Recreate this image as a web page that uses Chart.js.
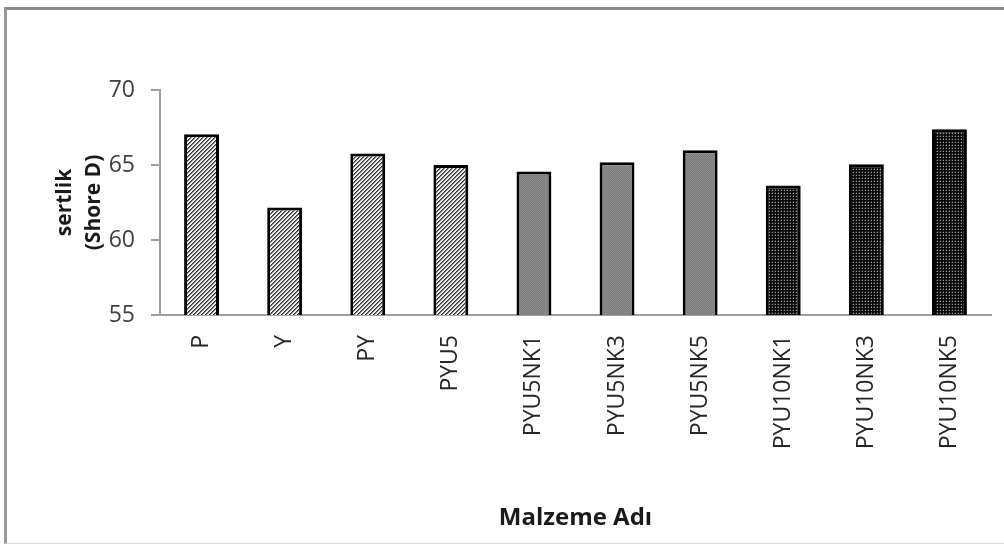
<!DOCTYPE html>
<html>
<head>
<meta charset="utf-8">
<script src="https://cdn.jsdelivr.net/npm/chart.js@4/dist/chart.umd.min.js"></script>
<style>
  html, body { margin: 0; padding: 0; background: #fff; }
  #wrap { position: relative; width: 1004px; height: 545px; }
  #frame { position: absolute; left: 4px; top: 7px; width: 1000px; height: 537px;
           border-top: 3px solid #8a8a8a; border-left: 3px solid #9a9a9a; border-bottom: 1px solid #dcdcdc;
           pointer-events: none; box-sizing: border-box; }
  canvas { position: absolute; left: 0; top: 0; }
</style>
</head>
<body>
<div id="wrap">
  <canvas id="c" width="1004" height="545"></canvas>
  <div id="frame"></div>
</div>
<script>
const categories = ['P', 'Y', 'PY', 'PYU5', 'PYU5NK1', 'PYU5NK3', 'PYU5NK5', 'PYU10NK1', 'PYU10NK3', 'PYU10NK5'];
const hardness = [67.05, 62.17, 65.77, 65.0, 64.57, 65.19, 65.99, 63.63, 65.05, 67.39];
const fillKinds = ['hatch', 'hatch', 'hatch', 'hatch', 'gray', 'gray', 'gray', 'dots', 'dots', 'dots'];
const yTicks = [55, 60, 65, 70];
const yTitle = ['sertlik', '(Shore D)'];
const xTitle = 'Malzeme Adı';

function makePattern(kind) {
  const p = document.createElement('canvas');
  const ctx = p.getContext('2d');
  if (kind === 'hatch') {
    p.width = 4; p.height = 4;
    ctx.fillStyle = '#ffffff'; ctx.fillRect(0, 0, 4, 4);
    for (let i = 0; i < 4; i++) {
      ctx.fillStyle = '#333333'; ctx.fillRect((3 - i) % 4, i, 1, 1);
      ctx.fillStyle = '#777777'; ctx.fillRect((4 - i) % 4, i, 1, 1);
      ctx.fillStyle = '#e6e6e6'; ctx.fillRect((5 - i) % 4, i, 1, 1);
    }
  } else if (kind === 'gray') {
    p.width = 2; p.height = 2;
    ctx.fillStyle = '#7c7c7c'; ctx.fillRect(0, 0, 2, 2);
    ctx.fillStyle = '#8c8c8c'; ctx.fillRect(0, 0, 1, 1); ctx.fillRect(1, 1, 1, 1);
  } else {
    p.width = 3; p.height = 3;
    ctx.fillStyle = '#080808'; ctx.fillRect(0, 0, 3, 3);
    ctx.fillStyle = '#999999'; ctx.fillRect(1, 1, 1, 1);
    ctx.fillStyle = '#333333'; ctx.fillRect(0, 1, 1, 1); ctx.fillRect(1, 0, 1, 1);
  }
  return document.getElementById('c').getContext('2d').createPattern(p, 'repeat');
}

const fills = fillKinds.map(makePattern);
const FONT = "'Open Sans', 'DejaVu Sans', sans-serif";

new Chart(document.getElementById('c'), {
  type: 'bar',
  data: {
    labels: categories,
    datasets: [{
      data: hardness,
      backgroundColor: fills,
      borderColor: '#000000',
      borderWidth: 3,
      borderSkipped: false,
      barPercentage: 0.84,
      categoryPercentage: 0.5
    }]
  },
  options: {
    responsive: false,
    animation: false,
    devicePixelRatio: 1,
    layout: { padding: { left: 0, top: 90, right: 13, bottom: 0 } },
    plugins: { legend: { display: false }, tooltip: { enabled: false } },
    scales: {
      x: {
        afterFit: (s) => { s.height = 230; },
        grid: { display: false, drawTicks: false },
        border: { display: true, color: '#a0a0a0', width: 2 },
        ticks: { color: '#262626', font: { family: FONT, size: 23 }, minRotation: 90, maxRotation: 90, padding: 20 },
        title: { display: true, text: xTitle, color: '#1a1a1a', font: { family: FONT, size: 24, weight: 'bold', lineHeight: 1.2 }, padding: { top: 0, bottom: 12 } }
      },
      y: {
        min: 55, max: 70,
        afterFit: (s) => { s.width = 160; },
        afterBuildTicks: (s) => { s.ticks = yTicks.map(v => ({ value: v })); },
        grid: { drawOnChartArea: false, drawTicks: true, tickLength: 9, color: '#a0a0a0', lineWidth: 2 },
        border: { display: true, color: '#a0a0a0', width: 2 },
        ticks: { color: '#404040', font: { family: FONT, size: 23 }, padding: 16 },
        title: { display: true, text: yTitle, color: '#1a1a1a', font: { family: FONT, size: 21, weight: 'bold', lineHeight: 1.4 }, padding: { top: 50, bottom: 0 } }
      }
    }
  }
});
</script>
</body>
</html>
